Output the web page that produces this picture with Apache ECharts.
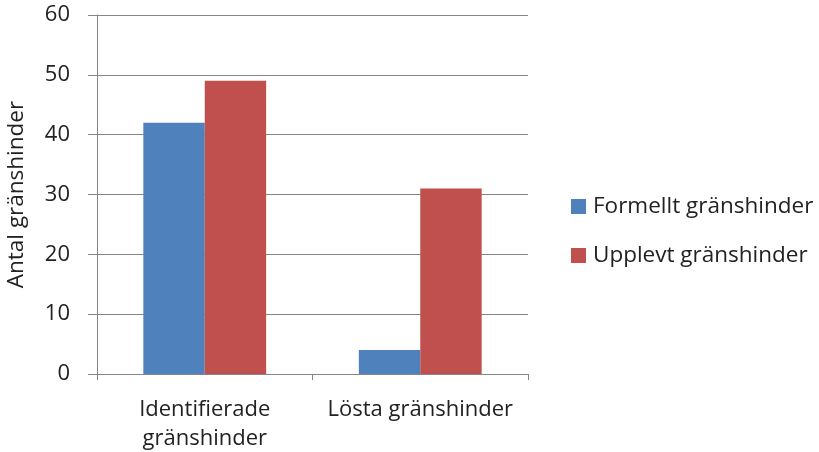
<!DOCTYPE html>
<html>
<head>
<meta charset="utf-8">
<script src="https://cdn.jsdelivr.net/npm/echarts@6/dist/echarts.min.js"></script>
<style>
  html, body { margin: 0; padding: 0; background: #fff; }
  #main { width: 819px; height: 452px; }
</style>
</head>
<body>
<div id="main"></div>
<script>
var categories = ['Identifierade\ngränshinder', 'Lösta gränshinder'];
var formellt = [42, 4];
var upplevt = [49, 31];
var seriesNames = ['Formellt gränshinder', 'Upplevt gränshinder'];
var yAxisName = 'Antal gränshinder';

var chartDom = document.getElementById('main');
var myChart = echarts.init(chartDom);
var font = '"Open Sans", "Noto Sans", sans-serif';
var option = {
  animation: false,
  textStyle: { fontFamily: font },
  grid: { left: 97, right: 291, top: 15, bottom: 78, outerBoundsMode: 'none' },
  legend: {
    orient: 'vertical',
    left: 566,
    top: 190,
    itemGap: 26,
    itemWidth: 15,
    itemHeight: 15,
    icon: 'rect',
    textStyle: { fontSize: 22.5, color: '#222', fontFamily: font, padding: [0, 0, 0, 2] },
    data: seriesNames
  },
  xAxis: {
    type: 'category',
    data: categories,
    axisLine: { lineStyle: { color: '#868686' } },
    axisTick: { show: true, length: 6, lineStyle: { color: '#868686' } },
    axisLabel: { interval: 0, fontSize: 22, color: '#222', margin: 21, lineHeight: 29, fontFamily: font }
  },
  yAxis: {
    type: 'value',
    min: 0,
    max: 60,
    interval: 10,
    name: yAxisName,
    nameLocation: 'middle',
    nameGap: 69,
    nameTextStyle: { fontSize: 22.5, color: '#222', fontFamily: font },
    axisLine: { show: true, lineStyle: { color: '#868686' } },
    axisTick: { show: true, length: 9, lineStyle: { color: '#868686' } },
    axisLabel: { fontSize: 22, color: '#222', margin: 27, fontFamily: font },
    splitLine: { lineStyle: { color: '#868686' } }
  },
  series: [
    {
      name: seriesNames[0],
      type: 'bar',
      data: formellt,
      barGap: '0%',
      barCategoryGap: '43%',
      itemStyle: { color: '#4F81BD' }
    },
    {
      name: seriesNames[1],
      type: 'bar',
      data: upplevt,
      itemStyle: { color: '#C0504D' }
    }
  ]
};
myChart.setOption(option);
window.onresize = function () { myChart.resize(); };
</script>
</body>
</html>
